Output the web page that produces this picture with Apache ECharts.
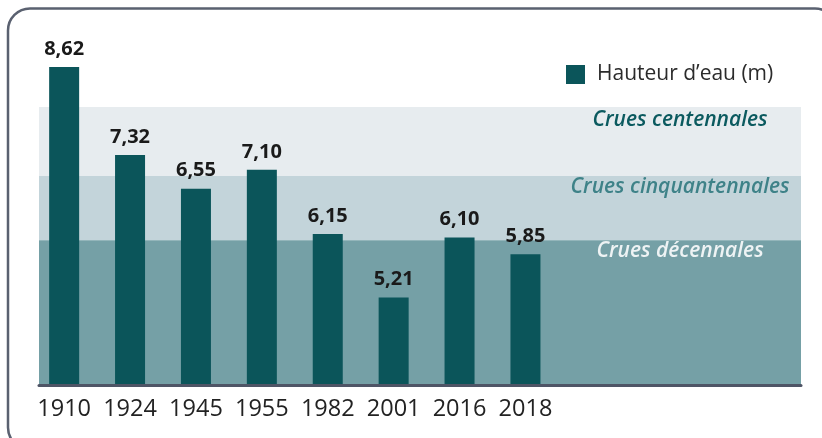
<!DOCTYPE html>
<html>
<head>
<meta charset="utf-8">
<script src="https://cdn.jsdelivr.net/npm/echarts@6/dist/echarts.min.js"></script>
<style>
html,body{margin:0;padding:0;background:#fff;}
#chart{width:822px;height:438px;}
</style>
</head>
<body>
<div id="chart"></div>
<script>
// Data
const years = ['1910', '1924', '1945', '1955', '1982', '2001', '2016', '2018'];
const heights = [8.62, 7.32, 6.82, 7.10, 6.15, 5.21, 6.10, 5.85];
const heightLabels = ['8,62', '7,32', '6,55', '7,10', '6,15', '5,21', '6,10', '5,85'];
const bandNames = ['Crues centennales', 'Crues cinquantennales', 'Crues décennales'];
const bandTops = [8.03, 7.01, 6.06];
const bandBottoms = [7.01, 6.06, 3.91];
const seriesName = 'Hauteur d\u2019eau (m)';

const yMin = 3.91, yMax = 9.02;
const bandColors = ['#e7ecef', '#c3d4da', '#75a0a6'];
const bandTextColors = ['#0b5a5f', '#3e8288', '#eef3f4'];
const bandLabelY = [13, 11, 11];
const barColor = '#0b555a';

const chart = echarts.init(document.getElementById('chart'), null, {renderer: 'canvas'});

const markData = bandNames.map((n, i) => [
  {
    name: n,
    yAxis: bandTops[i],
    itemStyle: {color: bandColors[i]},
    label: {
      show: true,
      position: [641, bandLabelY[i]],
      align: 'center',
      verticalAlign: 'middle',
      color: bandTextColors[i],
      fontFamily: 'Open Sans',
      fontStyle: 'italic',
      fontWeight: 600,
      fontSize: 21
    }
  },
  {yAxis: bandBottoms[i]}
]);

const option = {
  animation: false,
  backgroundColor: '#ffffff',
  graphic: [{
    type: 'rect',
    shape: {x: 8, y: 8.5, width: 829, height: 441, r: 22},
    style: {fill: 'none', stroke: '#5a6170', lineWidth: 2.5},
    z: 100
  }],
  legend: {
    show: true,
    left: 561,
    top: 59,
    itemWidth: 19,
    itemHeight: 19,
    itemGap: 0,
    icon: 'rect',
    data: [seriesName],
    textStyle: {
      fontFamily: 'Open Sans',
      fontSize: 21,
      color: '#2b2b2b',
      padding: [0, 0, 0, 7]
    }
  },
  grid: [
    {left: 39, right: 21, top: 40, bottom: 52.5},
    {left: 31.2, width: 527.2, top: 40, bottom: 52.5}
  ],
  xAxis: [
    {
      gridIndex: 0,
      type: 'value',
      min: 0, max: 1,
      z: 5,
      axisLine: {show: true, onZero: false, lineStyle: {color: '#4f5566', width: 3}},
      axisTick: {show: false},
      axisLabel: {show: false},
      splitLine: {show: false}
    },
    {
      gridIndex: 1,
      type: 'category',
      data: years,
      axisLine: {show: false},
      axisTick: {show: false},
      axisLabel: {
        show: true,
        interval: 0,
        margin: 12,
        fontFamily: 'Open Sans',
        fontSize: 23.5,
        color: '#222222'
      },
      splitLine: {show: false}
    }
  ],
  yAxis: [
    {gridIndex: 0, type: 'value', min: yMin, max: yMax, show: false, splitLine: {show: false}},
    {gridIndex: 1, type: 'value', min: yMin, max: yMax, show: false, splitLine: {show: false}}
  ],
  series: [
    {
      type: 'line',
      xAxisIndex: 0,
      yAxisIndex: 0,
      data: [],
      silent: true,
      z: 1,
      markArea: {
        silent: true,
        data: markData
      }
    },
    {
      name: seriesName,
      type: 'bar',
      xAxisIndex: 1,
      yAxisIndex: 1,
      data: heights,
      barWidth: 30,
      z: 3,
      itemStyle: {color: barColor},
      label: {
        show: true,
        position: 'top',
        distance: 8,
        fontFamily: 'Open Sans',
        fontWeight: 'bold',
        fontSize: 20,
        color: '#1a1a1a',
        formatter: p => heightLabels[p.dataIndex]
      }
    }
  ]
};

chart.setOption(option);
</script>
</body>
</html>
